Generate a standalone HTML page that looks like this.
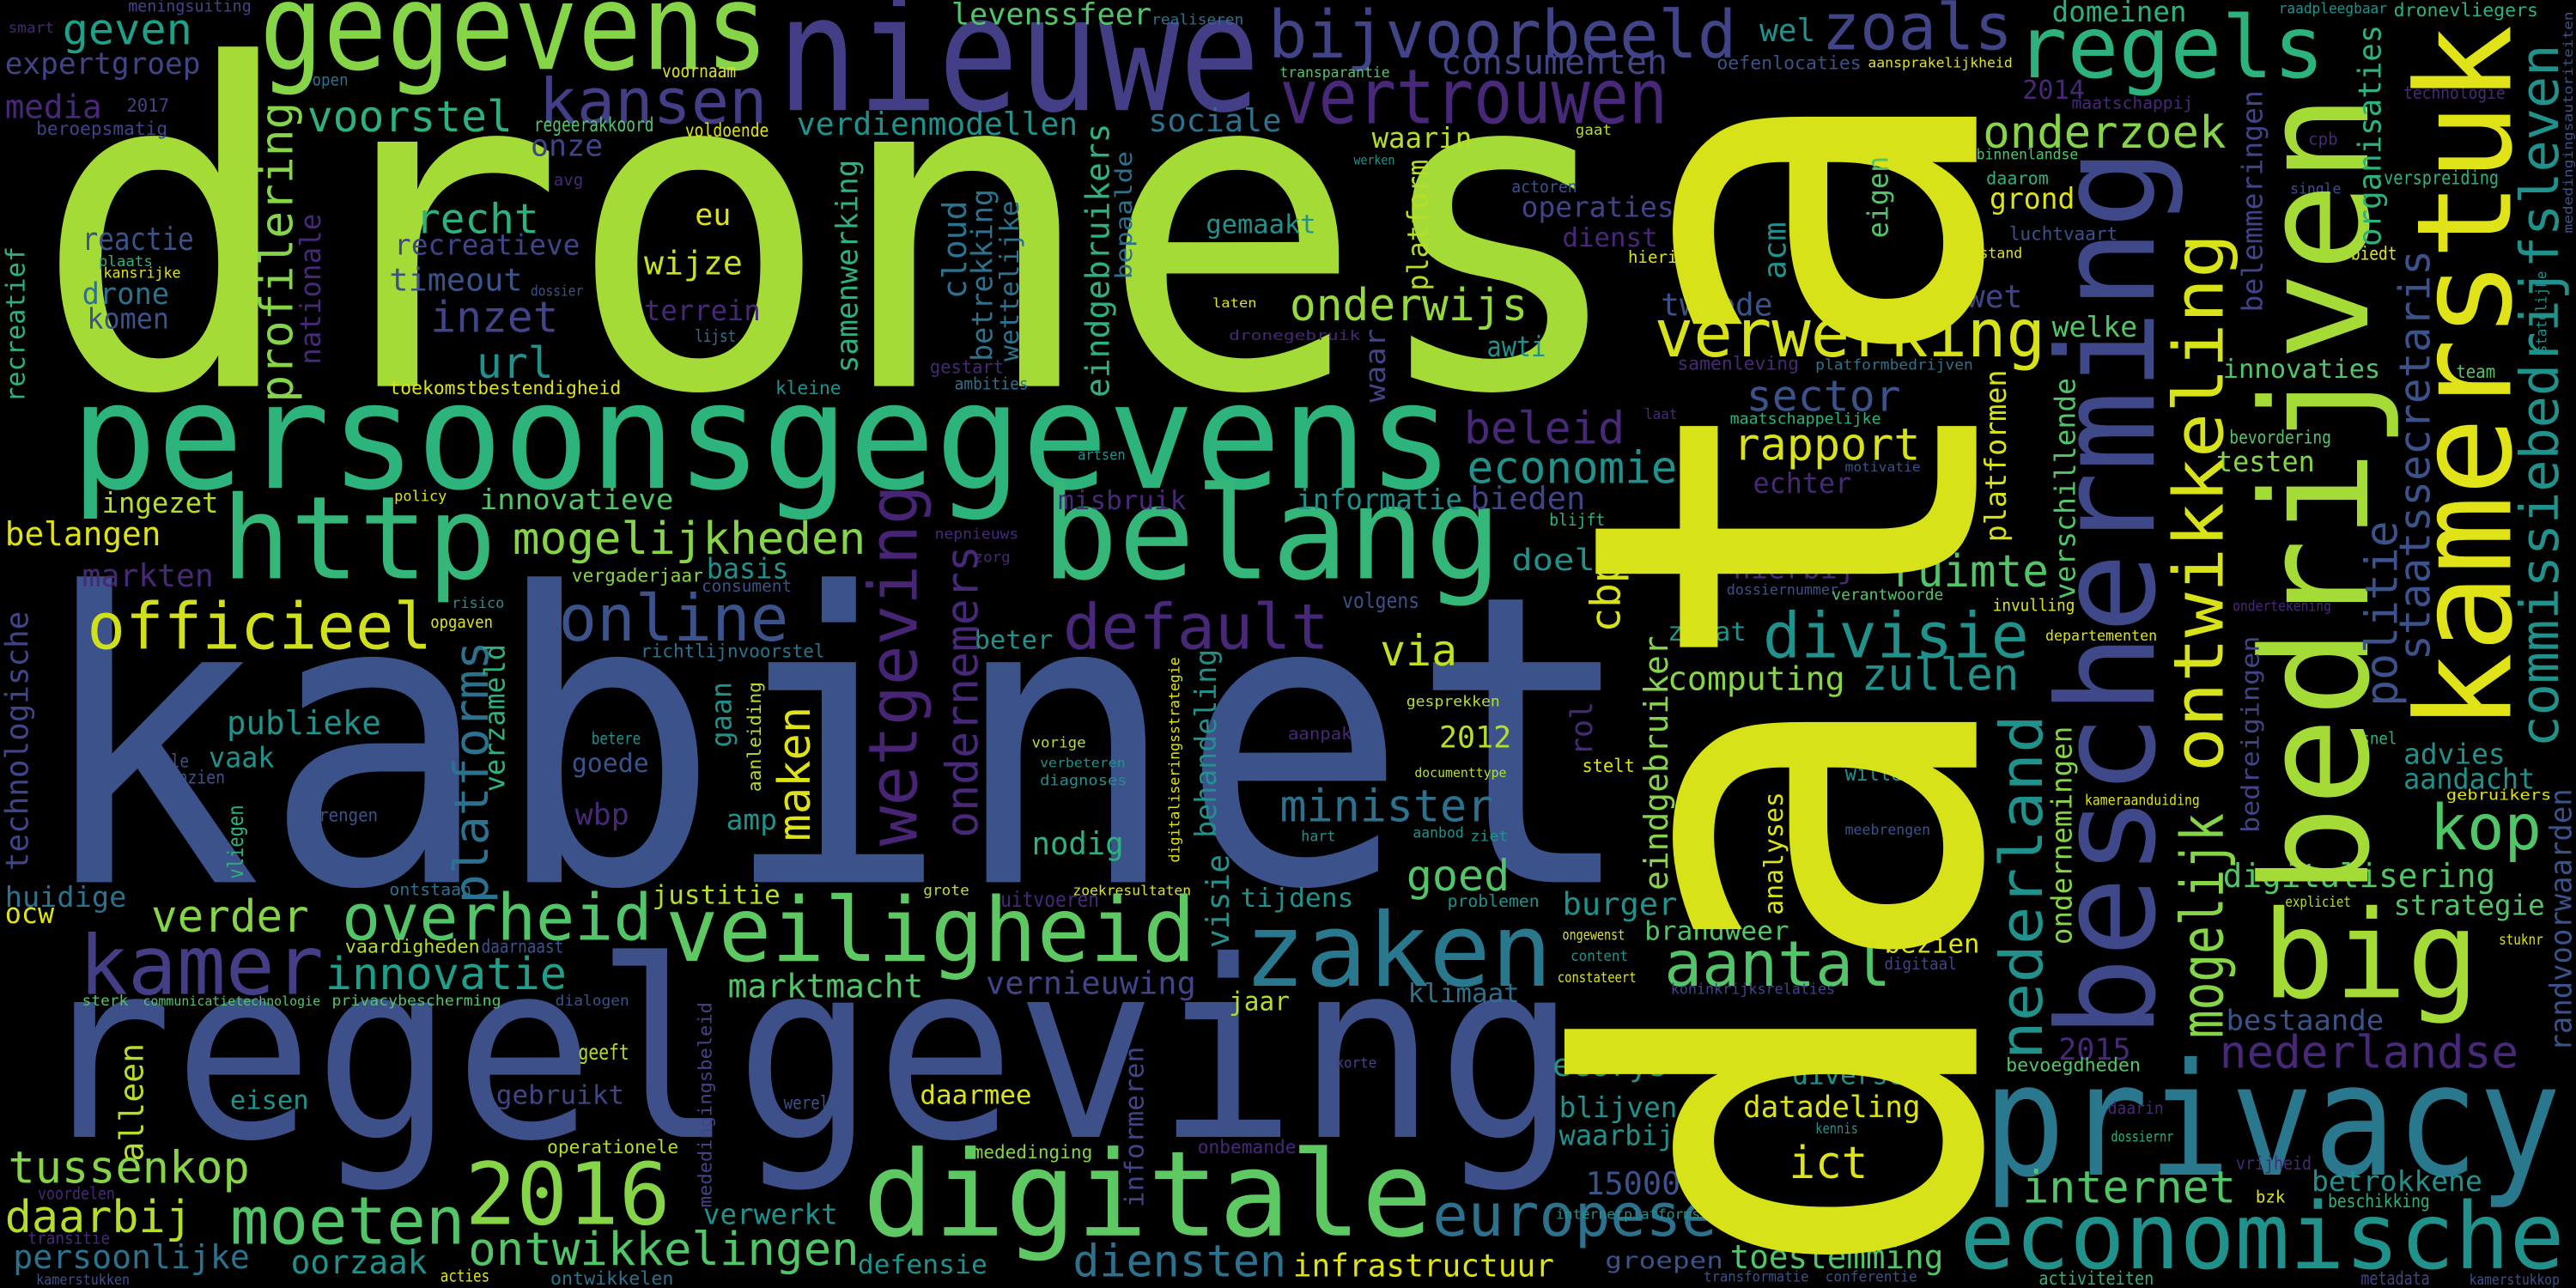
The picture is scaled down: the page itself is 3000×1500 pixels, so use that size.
<!DOCTYPE html>
<html><head><meta charset="utf-8"><style>
html,body{margin:0;padding:0;background:#000;}
#cloud{width:3000px;height:1500px;display:block;background:#000;}
text{font-family:"DejaVu Sans Mono","Liberation Mono",monospace;}
</style></head>
<body>
<svg id="cloud" xmlns="http://www.w3.org/2000/svg" viewBox="0 0 1568 784" preserveAspectRatio="none">
<rect x="0" y="0" width="1568" height="784" fill="#000"/>
<g id="words"></g>
</svg>
<script>
const Y="#dde318",YG="#b5de2b",LG="#86d549",G="#52c569",GT="#2db27d",T="#21918c",BT="#2c728e",B="#3b528b",BP="#414487",P="#482878";
// horizontal words: [text, x, baselineY, fontSize, width(0=auto), color]
const horizontalWords = [
["drones",20,235,272,973,"#a5db36"],
["kabinet",20,537,245,977,"#3b528b"],
["regelgeving",20,692,150,940,"#3d5089"],
["persoonsgegevens",43,297,90,842,"#2db47c"],
["gegevens",158,42,73,310,"#86d549"],
["nieuwe",473,67,98,294,"#433e85"],
["geven",38,27,26,79,"#1fa187"],
["meningsuiting",78,7,10,75,BP],
["smart",5,20,9,28,P],
["expertgroep",3,45,18,119,BP],
["media",3,72,20,59,P],
["2017",77,68,11,26,BP],
["beroepsmatig",22,82,11,80,BP],
["kansen",328,75,38,139,"#433e85"],
["voorstel",187,80,26,125,GT],
["onze",323,95,18,44,BP],
["regeerakkoord",325,80,12,73,G],
["voornaam",403,47,11,45,Y],
["voldoende",417,83,11,51,Y],
["open",190,52,10,22,BT],
["avg",337,113,10,18,P],
["recht",253,142,25,75,GT],
["recreatieve",240,155,17,113,BP],
["timeout",237,177,19,81,B],
["inzet",262,202,26,78,BP],
["url",290,230,26,47,T],
["eu",423,137,18,22,Y],
["wijze",392,167,20,60,"#c8e020"],
["terrein",392,195,17,71,P],
["lijst",423,208,10,25,BT],
["dossier",323,180,9,32,B],
["toekomstbestendigheid",237,240,11,141,Y],
["kleine",472,240,11,40,T],
["reactie",50,152,19,68,B],
["plaats",60,162,9,33,GT],
["kansrijke",63,169,9,47,Y],
["drone",50,185,18,53,BT],
["komen",53,200,17,50,B],
["verdienmodellen",485,82,19,171,T],
["http",135,352,70,167,"#35b779"],
["ingezet",62,312,17,71,YG],
["belangen",3,332,20,95,Y],
["innovatieve",292,310,17,118,G],
["mogelijkheden",312,337,27,215,LG],
["policy",240,305,9,32,Y],
["markten",50,357,19,80,P],
["basis",430,352,17,50,T],
["vergaderjaar",348,354,11,80,LG],
["consument",427,360,10,55,B],
["officieel",53,395,39,210,"#d0e11c"],
["online",340,390,39,140,B],
["risico",275,370,9,32,T],
["opgaven",262,382,10,38,Y],
["richtlijnvoorstel",390,400,11,112,BT],
["publieke",138,447,20,94,T],
["vaak",127,467,17,40,T],
["goede",348,470,16,47,B],
["betere",360,453,10,30,T],
["wbp",350,502,18,33,P],
["amp",442,505,17,31,T],
["brengen",188,500,11,42,B],
["alle",93,467,11,22,B],
["aanzien",97,477,11,40,B],
["huidige",3,552,17,74,BT],
["ocw",3,562,17,30,Y],
["verder",92,567,27,96,LG],
["overheid",208,572,39,189,G],
["justitie",397,550,16,78,YG],
["ontstaan",237,545,10,50,BT],
["kamer",48,605,50,149,"#433e85"],
["innovatie",198,602,27,147,"#1f9e89"],
["vaardigheden",210,580,11,82,YG],
["daarnaast",293,580,11,50,B],
["marktmacht",443,607,20,119,G],
["sterk",50,612,9,28,G],
["communicatietechnologie",87,612,8,108,G],
["privacybescherming",202,612,9,103,G],
["dialogen",338,612,9,45,B],
["eisen",140,675,16,48,T],
["gebruikt",302,672,16,78,BP],
["geeft",352,645,13,31,YG],
["operationele",333,702,11,80,YG],
["wereld",477,675,11,33,B],
["tussenkop",5,720,27,147,LG],
["2016",283,745,52,125,LG],
["daarbij",3,750,27,114,YG],
["moeten",140,757,40,143,G],
["voordelen",23,730,10,47,P],
["transitie",17,757,10,50,P],
["persoonlijke",8,772,20,144,BT],
["oorzaak",177,775,20,83,T],
["ontwikkelingen",285,770,28,238,G],
["kamerstukken",22,782,9,57,B],
["acties",268,780,10,30,Y],
["ontwikkelen",335,782,11,75,BT],
["verwerkt",428,745,17,82,T],
["levenssfeer",579,15,18,122,G],
["realiseren",701,15,9,56,BT],
["bijvoorbeeld",772,35,40,285,BP],
["consumenten",877,45,21,138,BP],
["transparantie",779,47,9,67,G],
["vertrouwen",779,75,46,236,P],
["sociale",699,80,19,81,BT],
["waarin",835,90,17,61,YG],
["werken",824,100,8,25,T],
["gemaakt",734,142,16,67,T],
["onderwijs",785,195,27,145,"#95d840"],
["laten",738,187,8,27,Y],
["dronegebruik",748,207,8.5,80,P],
["gestart",566,227,11,45,P],
["ambities",581,237,10,45,BT],
["awti",905,217,17,36,T],
["belang",634,352,78,280,"#35b779"],
["beleid",891,270,27,98,P],
["economie",893,294,27,128,T],
["informatie",789,310,17,101,T],
["bieden",895,310,19,70,BP],
["misbruik",644,310,16,78,P],
["artsen",656,280,9,29,T],
["nepnieuws",569,328,9,51,P],
["zorg",593,342,9,22,P],
["default",647,395,38,162,P],
["beter",593,395,16,48,T],
["via",840,405,26,47,"#c2df23"],
["volgens",817,370,13,47,B],
["doel",920,347,18,51,T],
["gesprekken",856,430,9,57,YG],
["2012",876,455,18,44,YG],
["documenttype",861,473,8,56,YG],
["aanpak",784,450,10,39,P],
["vorige",628,455,9,33,YG],
["verbeteren",633,467,8,52,T],
["diagnoses",633,478,9,53,T],
["minister",779,500,27,130,BT],
["nodig",628,520,19,56,GT],
["hart",792,512,9,21,T],
["aanbod",860,510,9,31,T],
["ziet",895,512,9,23,T],
["goed",856,542,26,63,G],
["grote",562,545,9,28,YG],
["uitvoeren",609,552,13,60,P],
["zoekresultaten",653,545,8.5,72,Y],
["tijdens",755,552,16,69,T],
["problemen",881,552,10,56,T],
["veiligheid",405,585,54,323,"#5ec962"],
["zaken",757,600,62,188,"#2a788e"],
["vernieuwing",600,605,19,128,BP],
["jaar",748,615,16,37,YG],
["klimaat",857,610,16,68,BT],
["daarmee",560,672,16,68,Y],
["mededinging",592,705,11,73,LG],
["onbemande",729,702,11,60,P],
["korte",813,650,9,25,BP],
["digitale",525,752,72,347,"#5ec962"],
["europese",872,752,36,173,BT],
["diensten",653,777,27,130,BT],
["defensie",522,775,16,79,T],
["infrastructuur",787,777,19,159,Y],
["regels",1227,47,52,188,GT],
["zoals",1109,30,39,116,BP],
["wel",1071,25,19,34,T],
["domeinen",1249,13,17,82,GT],
["raadpleegbaar",1387,8,9,66,T],
["dronevliegers",1457,10,11,88,GT],
["oefenlocaties",1045,42,11,88,B],
["aansprakelijkheid",1137,41,8.5,88,Y],
["2014",1231,60,16,38,P],
["maatschappij",1261,66,10,74,P],
["gaat",959,82,9,22,YG],
["onderzoek",1207,90,27,148,LG],
["binnenlandse",1203,97,8.7,62,G],
["daarom",1209,112,10.5,38,GT],
["grond",1211,127,17.5,52,Y],
["luchtvaart",1223,146,11,66,B],
["stand",1205,157,9,26,Y],
["operaties",926,132,17,93,BP],
["actoren",920,117,10,40,B],
["dienst",951,150,16,58,P],
["hierin",991,160,10,36,Y],
["tweede",1011,192,19,68,B],
["wet",1197,187,19,34,BP],
["verwerking",1007,217,40,238,"#d8e219"],
["welke",1249,205,17,52,G],
["samenleving",1021,225,11,74,P],
["platformbedrijven",1105,225,9,96,BT],
["sector",1063,250,26,94,B],
["maatschappelijke",1053,258,9.5,92,GT],
["laat",1001,255,9,20,P],
["rapport",1055,280,27,114,"#d8e219"],
["motivatie",1123,287,8,46,B],
["echter",1067,300,17,60,P],
["blijft",943,320,10,34,GT],
["hierbij",1055,352,17,74,P],
["ruimte",1151,357,27,96,G],
["dossiernummer",1051,362,9,68,B],
["verantwoorde",1115,365,9.5,68,G],
["divisie",1073,400,38,162,T],
["zodat",1015,390,16,48,T],
["computing",1015,420,20,108,LG],
["zullen",1133,420,27,96,T],
["invulling",1213,372,10,50,Y],
["departementen",1245,390,9,68,Y],
["stelt",963,470,11,32,Y],
["willen",1123,475,13,42,T],
["meebrengen",1123,508,9,52,B],
["innovaties",1353,230,16,96,G],
["bevordering",1357,270,11,62,G],
["testen",1349,287,17,60,LG],
["ondertekening",1359,372,9,60,P],
["cpb",1405,88,10,18,P],
["single",1394,118,9,31,B],
["technologie",1463,60,10.5,62,P],
["verspreiding",1451,112,11.5,70,GT],
["biedt",1431,158,11,28,Y],
["team",1495,230,11,24,G],
["snel",1437,453,10,22,GT],
["advies",1463,465,17,62,T],
["aandacht",1463,480,17,80,T],
["gebruikers",1489,487,9,64,Y],
["kop",1479,517,38,68,G],
["kameraanduiding",1269,490,9,70,Y],
["digitalisering",1353,540,20,166,G],
["expliciet",1391,552,9,40,YG],
["strategie",1457,557,17,92,G],
["stuknr",1521,575,9,27,Y],
["big",1377,607,74,132,"#a5db36"],
["bezien",1147,580,16,58,Y],
["digitaal",1147,590,10,44,BP],
["brandweer",1001,572,16,88,G],
["aantal",1013,600,38,138,G],
["burger",951,557,19,70,T],
["ongewenst",951,572,9,38,Y],
["content",956,585,9,35,T],
["constateert",948,598,9,48,Y],
["koninkrijksrelaties",1017,605,9,100,BP],
["bestaande",1355,627,17,96,B],
["nederlandse",1351,650,27.5,182,P],
["2015",1253,645,18,44,P],
["bevoegdheden",1221,652,11,82,G],
["ecorys",945,655,19,70,T],
["diverse",1091,660,16,68,T],
["blijven",949,680,17,72,T],
["datadeling",1061,680,18,108,Y],
["waarbij",949,697,17,70,T],
["kennis",1105,690,9,26,T],
["ict",1089,717,27,48,Y],
["15000",965,727,19,58,B],
["internetplatforms",947,742,8.5,88,T],
["groepen",977,772,14,72,B],
["toestemming",1053,772,20,130,G],
["transformatie",1037,780,9,64,B],
["conferentie",1111,780,9,56,B],
["privacy",1207,715,95,352,"#2a788e"],
["internet",1231,732,27,130,G],
["economische",1193,772,56,368,"#21918c"],
["daarin",1283,678,10,34,P],
["dossiernr",1285,695,9,38,GT],
["vrijheid",1361,712,11,46,P],
["bzk",1373,732,10,18,Y],
["betrokkene",1407,725,17,104,T],
["beschikking",1417,735,11,62,GT],
["activiteiten",1241,782,11,70,GT],
["metadata",1437,782,11,42,BP],
["kamerstukkop",1503,782,9,55,B]
];
// vertical words (read bottom to top): [text, baselineX, bottomY, fontSize, length, color]
const verticalWords = [
["data",1203,782,330,737,"#d8e219"],
["bescherming",1311,632,82,542,"#3f4889"],
["mogelijk",1353,632,36,137,LG],
["ontwikkeling",1353,470,42,328,"#d8e219"],
["bedrijven",1441,545,90,488,"#a5db36"],
["kamerstuk",1528,445,80,430,"#dfe318"],
["staatssecretaris",1479,402,26,250,B],
["politie",1459,430,27,113,B],
["commissiebedrijfsleven",1557,455,32,428,T],
["organisaties",1449,150,19,135,GT],
["belemmeringen",1377,190,17,135,BP],
["bedreigingen",1375,507,15,120,BP],
["randvoorwaarden",1565,640,18,160,B],
["mededingingsautoriteiten",1566,142,8,135,B],
["statelijke",1550,215,9,50,T],
["nederland",1243,645,36,210,T],
["ondernemingen",1261,575,17,133,LG],
["verschillende",1263,365,17,135,G],
["platformen",1221,330,17.5,105,"#d8e219"],
["eindgebruiker",1015,542,20,155,LG],
["analyses",1085,557,16,75,Y],
["cbp",986,385,25,45,"#d8e219"],
["rol",969,460,18,33,P],
["acm",1087,170,19,35,T],
["eigen",1149,145,17,50,G],
["wetgeving",558,515,41,220,"#482475"],
["ondernemers",595,510,27,178,P],
["behandeling",740,510,17.5,115,T],
["visie",748,577,19,57,T],
["digitaliseringsstrategie",718,525,8.7,125,Y],
["informeren",696,735,16,98,BP],
["cloud",588,182,20,60,BT],
["betrekking",604,220,17.5,105,BT],
["wettelijke",620,220,16,98,BT],
["eindgebruikers",675,242,20,167,GT],
["bepaalde",689,170,14,78,BT],
["platform",869,177,17,80,YG],
["waar",843,245,17,45,BP],
["maken",493,512,27,82,Y],
["gaan",445,455,17,40,T],
["aanleiding",463,482,11,67,YG],
["platforms",297,550,29,160,BT],
["verzameld",307,482,17,90,GT],
["technologische",17,530,19,158,BP],
["alleen",87,707,20,72,YG],
["profilering",178,245,27.7,183,LG],
["nationale",195,222,17,92,P],
["samenwerking",522,227,18,130,GT],
["recreatief",15,245,16,95,GT],
["vliegen",148,535,13,45,GT],
["mededingingsbeleid",433,735,11,125,BP]
];
const NS = "http://www.w3.org/2000/svg";
const g = document.getElementById("words");
function slug(t){return t.replace(/\s+/g,"-");}
horizontalWords.forEach(function(r){
  const el = document.createElementNS(NS,"text");
  el.setAttribute("x", r[1]);
  el.setAttribute("y", r[2]);
  el.setAttribute("font-size", r[3]);
  el.setAttribute("textLength", r[4] || r[0].length*0.6*r[3]);
  el.setAttribute("lengthAdjust", "spacingAndGlyphs");
  el.setAttribute("fill", r[5]);
  el.textContent = r[0];
  
  
  g.appendChild(el);
});
verticalWords.forEach(function(r){
  const el = document.createElementNS(NS,"text");
  el.setAttribute("transform", "translate(" + r[1] + "," + r[2] + ") rotate(-90)");
  el.setAttribute("x", 0);
  el.setAttribute("y", 0);
  el.setAttribute("font-size", r[3]);
  el.setAttribute("textLength", r[4]);
  el.setAttribute("lengthAdjust", "spacingAndGlyphs");
  el.setAttribute("fill", r[5]);
  el.textContent = r[0];
  
  
  g.appendChild(el);
});
</script>
</body></html>
